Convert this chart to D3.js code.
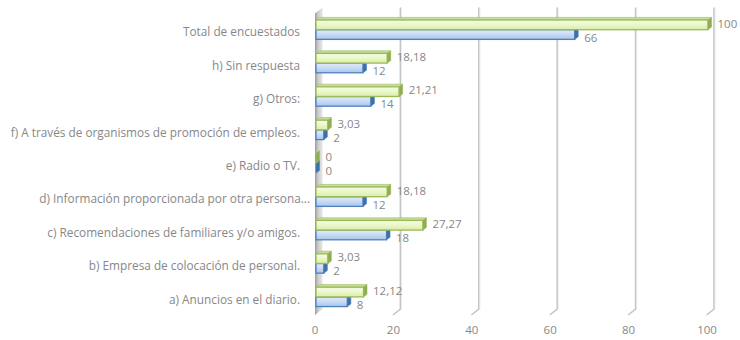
<!DOCTYPE html>
<html>
<head>
<meta charset="utf-8">
<script src="https://cdn.jsdelivr.net/npm/d3@7"></script>
<style>
  html, body { margin: 0; padding: 0; background: #ffffff; }
  svg { display: block; }
  text { font-family: "Open Sans", Lato, sans-serif; fill: #878787; }
</style>
</head>
<body>
<svg id="chart" width="740" height="340"></svg>
<script>
// Survey: how respondents found their job (count and percentage)
const categories = [
  "Total de encuestados",
  "h) Sin respuesta",
  "g) Otros:",
  "f) A través de organismos de promoción de empleos.",
  "e) Radio o TV.",
  "d) Información proporcionada por otra persona...",
  "c) Recomendaciones de familiares y/o amigos.",
  "b) Empresa de colocación de personal.",
  "a) Anuncios en el diario."
];
const counts   = [66, 12, 14, 2, 0, 12, 18, 2, 8];
const percents = [100, 18.18, 21.21, 3.03, 0, 18.18, 27.27, 3.03, 12.12];
const tickValues = [0, 20, 40, 60, 80, 100];

const svg = d3.select("#chart");
const fmt = d3.formatLocale({ decimal: ",", thousands: ".", grouping: [3], currency: ["", ""] }).format(",.2~f");

const x = d3.scaleLinear().domain([0, 100]).range([316, 708]);
const y = d3.scaleBand().domain(categories).range([13, 313.6]).paddingInner(0.42).paddingOuter(0.21);
const series = d3.scaleBand().domain(["pct", "count"]).range([0, y.bandwidth()]);

// depth of the chart walls and of the bars (oblique projection)
const wallDx = 7.5, wallDy = 6;
const barDx = 3.5, barDy = 2.6;
const floorY = 315, topY = 7.5;

const defs = svg.append("defs");
function vGrad(id, stops) {
  const g = defs.append("linearGradient").attr("id", id).attr("x1", 0).attr("y1", 0).attr("x2", 0).attr("y2", 1);
  stops.forEach(([o, c]) => g.append("stop").attr("offset", o).attr("stop-color", c));
}
vGrad("greenFront", [[0, "#f6fce6"], [0.5, "#eaf7c9"], [1, "#d9eda9"]]);
vGrad("blueFront", [[0, "#e2ecf9"], [0.5, "#c8daf4"], [1, "#a8c4ec"]]);
const wg = defs.append("linearGradient").attr("id", "wall").attr("x1", 0).attr("y1", 0).attr("x2", 1).attr("y2", 0);
[[0, "#9c9c9c"], [0.45, "#cfcfcf"], [1, "#e6e6e6"]].forEach(([o, c]) => wg.append("stop").attr("offset", o).attr("stop-color", c));

// gridlines: back wall vertical plus floor diagonal
const grid = svg.append("g");
tickValues.filter(t => t > 0).forEach(t => {
  const fx = x(t) - 1.5;
  grid.append("path")
    .attr("d", `M${fx + wallDx},${topY} L${fx + wallDx},${floorY - wallDy} L${fx},${floorY}`)
    .attr("fill", "none").attr("stroke", "#c6c6c6").attr("stroke-width", 1.6);
  grid.append("path")
    .attr("d", `M${fx + wallDx + 1},${topY} L${fx + wallDx + 1},${floorY - wallDy}`)
    .attr("fill", "none").attr("stroke", "#e4e4e4").attr("stroke-width", 0.8);
});

// left side wall at zero
const wx = x(0) - 1;
svg.append("path")
  .attr("d", `M${wx},${floorY} L${wx},${topY + wallDy} L${wx + wallDx},${topY} L${wx + wallDx},${floorY - wallDy} Z`)
  .attr("fill", "url(#wall)");

// 3D bars
const styles = {
  pct:   { front: "url(#greenFront)", top: "#c9dd9c", side: "#8fad52", stroke: "#9bbb59", values: percents },
  count: { front: "url(#blueFront)",  top: "#a9c3e6", side: "#3f6fa8", stroke: "#4f81bd", values: counts }
};

const bars = svg.append("g");
["count", "pct"].forEach(key => {
  const s = styles[key];
  categories.forEach((c, i) => {
    const v = s.values[i];
    const y0 = y(c) + series(key);
    const h = series.bandwidth();
    const x0 = x(0), x1 = x(v);
    const g = bars.append("g");
    // top face
    g.append("path")
      .attr("d", `M${x0},${y0} L${x1},${y0} L${x1 + barDx},${y0 - barDy} L${x0 + barDx},${y0 - barDy} Z`)
      .attr("fill", s.top).attr("stroke", s.stroke).attr("stroke-width", 0.6);
    // front face
    g.append("rect")
      .attr("x", x0).attr("y", y0).attr("width", Math.max(0, x1 - x0)).attr("height", h)
      .attr("fill", s.front).attr("stroke", s.stroke).attr("stroke-width", 1.3);
    // side face
    g.append("path")
      .attr("d", `M${x1},${y0} L${x1 + barDx},${y0 - barDy} L${x1 + barDx},${y0 + h - barDy} L${x1},${y0 + h} Z`)
      .attr("fill", s.side).attr("stroke", s.stroke).attr("stroke-width", 0.6);
  });
});

// data labels
const labels = svg.append("g").style("font-size", "11.5px");
["pct", "count"].forEach(key => {
  const s = styles[key];
  categories.forEach((c, i) => {
    const v = s.values[i];
    const yc = y(c) + series(key) + series.bandwidth() / 2 + (key === "pct" ? -1.3 : 3);
    labels.append("text")
      .attr("x", x(v) + barDx + 6)
      .attr("y", yc)
      .attr("dy", "0.35em")
      .text(fmt(v));
  });
});

// category labels
svg.append("g").style("font-size", "11.8px")
  .selectAll("text").data(categories).join("text")
  .attr("x", d => d.endsWith("...") ? 310 : 300)
  .attr("y", d => y(d) + y.bandwidth() / 2 + 2.5)
  .attr("dy", "0.35em")
  .attr("text-anchor", "end")
  .text(d => d);

// value axis labels along the floor
svg.append("g").style("font-size", "11.5px")
  .selectAll("text").data(tickValues).join("text")
  .attr("x", d => x(d) - 1)
  .attr("y", 330)
  .attr("dy", "0.35em")
  .attr("text-anchor", "middle")
  .text(d => d);
</script>
</body>
</html>
